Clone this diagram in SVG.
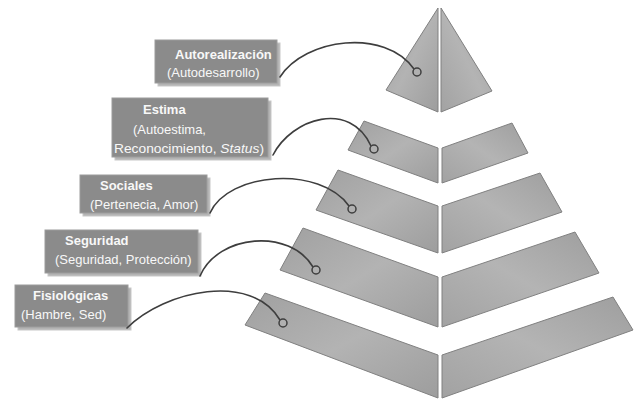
<svg xmlns="http://www.w3.org/2000/svg" width="640" height="404" viewBox="0 0 640 404">
<style>
.box{fill:#8b8b8b;stroke:#9c9c9c;stroke-width:1}
.shadow{fill:#b4b4b4;stroke:#c8c8c8;stroke-width:1}
.t{font-family:"Liberation Sans",Arial,sans-serif;font-size:13px;fill:#f8f8f8}
.b{font-weight:bold}
.face{fill:url(#fg);stroke:#808080;stroke-width:1;stroke-linejoin:round}
.faceR{fill:url(#fgr);stroke:#808080;stroke-width:1;stroke-linejoin:round}
.conn{fill:none;stroke:#3e3e3e;stroke-width:1.6;stroke-linecap:round}
.dot{fill:#b0b0b0;stroke:#3e3e3e;stroke-width:1.5}
</style>
<defs>
<linearGradient id="fg" x1="0" y1="0" x2="1" y2="1">
<stop offset="0" stop-color="#a0a0a0"/>
<stop offset="0.5" stop-color="#b3b3b3"/>
<stop offset="1" stop-color="#9d9d9d"/>
</linearGradient>
<linearGradient id="fgr" x1="0" y1="1" x2="1" y2="0">
<stop offset="0" stop-color="#a2a2a2"/>
<stop offset="0.5" stop-color="#b4b4b4"/>
<stop offset="1" stop-color="#9e9e9e"/>
</linearGradient>
</defs>
<rect width="640" height="404" fill="#ffffff"/>

<g id="pyramid">
<g id="tier1">
<polygon class="face" points="438,8 386,90 438,112"/>
<polygon class="faceR" points="441,8 441,112 492,91"/>
</g>
<g id="tier2">
<polygon class="face" points="364,121 438,148 438,183 348,150"/>
<polygon class="faceR" points="442,148 512,123 528,153 442,183"/>
</g>
<g id="tier3">
<polygon class="face" points="338,170 438,206 438,253 316,210"/>
<polygon class="faceR" points="442,206 540,173 562,212 442,253"/>
</g>
<g id="tier4">
<polygon class="face" points="303,228 438,277 438,327 280,270"/>
<polygon class="faceR" points="442,277 575,232 599,273 442,327"/>
</g>
<g id="tier5">
<polygon class="face" points="265,293 438,355 438,398 245,325"/>
<polygon class="faceR" points="442,355 613,297 633,330 442,398"/>
</g>
</g>

<g id="box-autorealizacion">
<rect class="shadow" x="158" y="43" width="122" height="43"/>
<rect class="box" x="155" y="40" width="122" height="43"/>
<text class="t b" x="175" y="59">Autorealización</text>
<text class="t" x="167" y="77">(Autodesarrollo)</text>
</g>
<g id="box-estima">
<rect class="shadow" x="115" y="101" width="156" height="59"/>
<rect class="box" x="112" y="98" width="156" height="59"/>
<text class="t b" x="143" y="114">Estima</text>
<text class="t" x="133" y="134">(Autoestima,</text>
<text class="t" x="114" y="153" textLength="150" lengthAdjust="spacingAndGlyphs">Reconocimiento, <tspan font-style="italic">Status</tspan>)</text>
</g>
<g id="box-sociales">
<rect class="shadow" x="83" y="178" width="127" height="38"/>
<rect class="box" x="80" y="175" width="127" height="38"/>
<text class="t b" x="100" y="190">Sociales</text>
<text class="t" x="90" y="209">(Pertenecia, Amor)</text>
</g>
<g id="box-seguridad">
<rect class="shadow" x="48" y="233" width="153" height="43"/>
<rect class="box" x="45" y="230" width="153" height="43"/>
<text class="t b" x="65" y="245">Seguridad</text>
<text class="t" x="55" y="264">(Seguridad, Protección)</text>
</g>
<g id="box-fisiologicas">
<rect class="shadow" x="18" y="288" width="113" height="42"/>
<rect class="box" x="15" y="285" width="113" height="42"/>
<text class="t b" x="33" y="300">Fisiológicas</text>
<text class="t" x="21" y="319">(Hambre, Sed)</text>
</g>

<g id="connectors">
<path class="conn" d="M280,77 C305,38 385,28 414,69"/>
<circle class="dot" cx="417" cy="72" r="4"/>
<path class="conn" d="M273,155 C292,118 350,100 371,146"/>
<circle class="dot" cx="374" cy="149" r="4"/>
<path class="conn" d="M210,213 C228,172 320,165 349,206"/>
<circle class="dot" cx="352" cy="209" r="4"/>
<path class="conn" d="M200,276 C218,234 290,228 313,267"/>
<circle class="dot" cx="316" cy="270" r="4"/>
<path class="conn" d="M127,328 C165,290 252,272 280,320"/>
<circle class="dot" cx="283" cy="323" r="4"/>
</g>
</svg>
